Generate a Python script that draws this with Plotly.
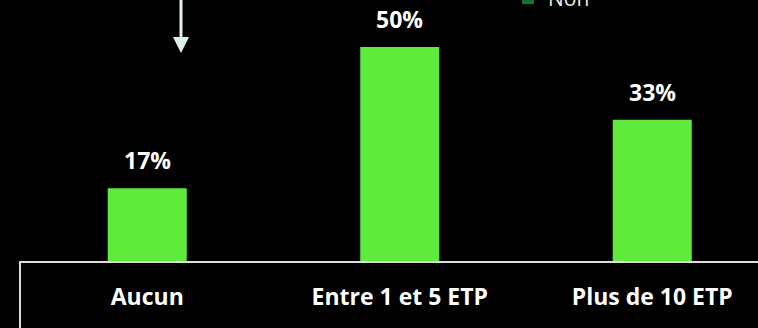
import plotly.graph_objects as go

# Chart data
categories = ["Aucun", "Entre 1 et 5 ETP", "Plus de 10 ETP"]
values = [17, 50, 33]
legend_names = ["Oui", "Non"]

BAR_GREEN = "#5EEB3B"
DARK_GREEN = "#1A6E3B"
LINE_GREY = "#DDDDDD"
ARROW_COLOR = "#DDF2EA"

W, H = 758, 328
M_L, M_R, M_T, M_B = 21, 0, 0, 67
PLOT_W = W - M_L - M_R
PLOT_H = H - M_T - M_B
STEP = 252.5  # pixels per category


def px_x(x):
    return (x - M_L) / PLOT_W


def px_y(y):
    return (H - M_B - y) / PLOT_H


fig = go.Figure()

fig.add_trace(go.Bar(
    x=categories, y=values, name=legend_names[0],
    marker=dict(color=BAR_GREEN, line=dict(width=0)),
    width=0.313, showlegend=False,
))
fig.add_trace(go.Bar(
    x=categories, y=[None] * len(categories), name=legend_names[1],
    marker=dict(color=DARK_GREEN, line=dict(width=0)),
    width=0.313, showlegend=True,
))

# Percentage labels above each bar
for c, v in zip(categories, values):
    fig.add_annotation(
        x=c, y=v, xref="x", yref="y", text=f"<b>{v}%</b>",
        showarrow=False, yanchor="bottom", yshift=10,
        font=dict(family="Open Sans", size=23, color="white"),
    )

# Frame under the axis
fig.add_shape(type="line", xref="paper", yref="paper",
              x0=px_x(20), x1=px_x(20), y0=0, y1=px_y(H + 5),
              line=dict(color=LINE_GREY, width=2))

# Downward arrow
ax = px_x(181)
fig.add_shape(type="line", xref="paper", yref="paper",
              x0=ax, x1=ax, y0=px_y(-5), y1=px_y(40),
              line=dict(color=ARROW_COLOR, width=3))
fig.add_shape(type="path", xref="paper", yref="paper",
              path=(f"M {px_x(173)} {px_y(37)} L {px_x(189)} {px_y(37)} "
                    f"L {px_x(181)} {px_y(53)} Z"),
              fillcolor=ARROW_COLOR, line=dict(width=0))

fig.update_layout(
    width=W, height=H,
    margin=dict(l=M_L, r=M_R, t=M_T, b=M_B, pad=0, autoexpand=False),
    paper_bgcolor="black", plot_bgcolor="black",
    font=dict(family="Open Sans", color="white"),
    barmode="overlay",
    legend=dict(
        orientation="v", x=px_x(508), xanchor="left",
        y=px_y(19), yanchor="bottom",
        font=dict(size=21, color="#EEEEEE"),
        bgcolor="rgba(0,0,0,0)",
    ),
    xaxis=dict(
        range=[-0.5, -0.5 + PLOT_W / STEP],
        showgrid=False, zeroline=False,
        showline=True, linecolor=LINE_GREY, linewidth=2,
        ticks="outside", ticklen=14, tickcolor="rgba(0,0,0,0)",
        tickfont=dict(family="Open Sans", size=23, color="white"),
        tickprefix="<b>", ticksuffix="</b>",
    ),
    yaxis=dict(
        range=[0, PLOT_H / 4.28], visible=False, showgrid=False,
    ),
)

fig.write_html("out.html")
